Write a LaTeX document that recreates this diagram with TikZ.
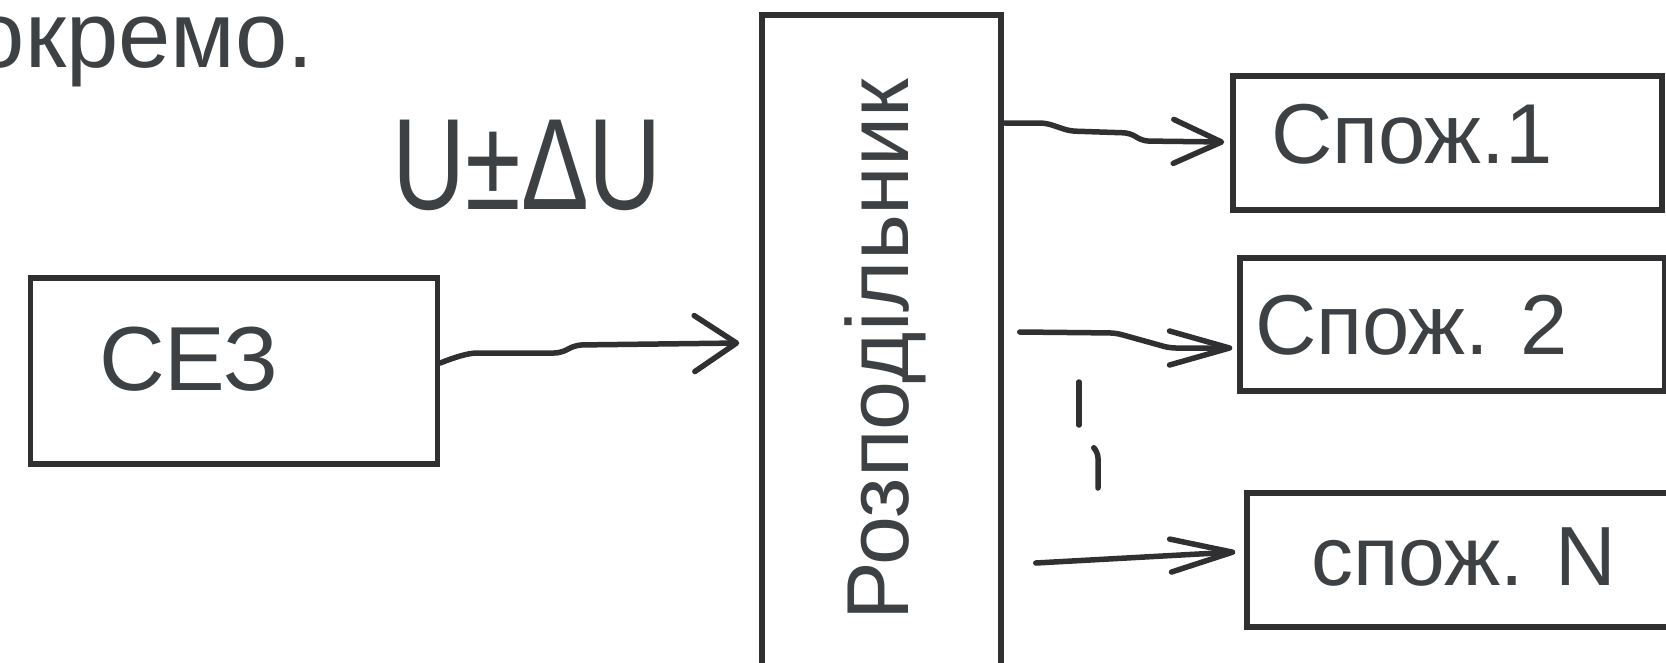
\documentclass[tikz,border=0pt]{standalone}
\usepackage{fontspec}
\setmainfont{Liberation Sans}
\usepackage{xcolor}
\usepackage{graphicx}
\usetikzlibrary{arrows.meta}
\usetikzlibrary{calc}
\definecolor{inkline}{RGB}{48,48,50}
\definecolor{inktext}{RGB}{62,65,68}
\newcommand{\fsz}[1]{\fontsize{#1pt}{#1pt}\selectfont}

\begin{document}
\begin{tikzpicture}[x=1pt,y=1pt,
        block/.style={draw=inkline,line width=5.5pt,inner sep=0pt},
        lbl/.style={inner sep=0pt,text=inktext,anchor=base west},
        wire/.style={draw=inkline,line width=5.5pt,line cap=round,line join=round,rounded corners=6pt}]
        \useasboundingbox (0,0) rectangle (1666,-662);
        \node[block,minimum width=407pt,minimum height=186pt] (sez) at (234,-371) {};
        \node[block,minimum width=239pt,minimum height=675pt] (rozp) at (881.5,-352.5) {};
        \node[block,minimum width=429pt,minimum height=134pt] (spozh1) at (1447.5,-143) {};
        \node[block,minimum width=425pt,minimum height=133pt] (spozh2) at (1452.5,-324.5) {};
        \node[block,minimum width=443pt,minimum height=134pt] (spozhN) at (1468.5,-560) {};
        \node[lbl,anchor=base east,font={\fsz{94}}] (okremo) at (314,-67) {окремо.};
        \node[lbl,font={\fsz{130}}] (delta) at (392,-209) {\scalebox{0.78}[1]{U±ΔU}};
        \node[lbl,font={\fsz{91}}] (sezlbl) at (99,-390) {СЕЗ};
        \node[lbl,rotate=90,font={\fsz{88}}] (rozplbl) at (908,-621) {Розподільник};
        \node[lbl,font={\fsz{85}}] (spozh1lbl) at (1271,-163) {Спож.1};
        \node[lbl,font={\fsz{85}}] (spozh2lbl) at (1255,-354) {Спож. 2};
        \node[lbl,font={\fsz{84}}] (spozhNlbl) at (1311,-585) {спож. N};
        \draw[wire,-{Straight Barb[round,length=42pt,width=56pt]}] ($(sez.east)+(0,8)$) .. controls +(15,6) and +(-15,0) .. ++(43,10) -- ++(77,0) -- ++(16,8) -- ($(rozp.west)+(-20,9.5)$);
        \draw[wire,-{Straight Barb[round,length=48pt,width=44pt]}] ($(rozp.east|-spozh1.west)+(1,20)$) -- ++(41,0) -- ++(24,-8) -- ++(60,-2) -- ++(13,-8) -- ($(spozh1.west)+(-6,1)$);
        \draw[wire,-{Straight Barb[round,length=60pt,width=34pt]}] ($(rozp.east|-spozh2.west)+(16,-7.5)$) -- ++(96,-1) -- ++(54,-15) -- ($(spozh2.west)+(-5,-23.5)$);
        \draw[wire,-{Straight Barb[round,length=62pt,width=33pt]}] ($(rozp.east|-spozhN.west)+(32,-3)$) -- ($(spozhN.west)+(-9,8)$);
        \draw[wire] (1079,-382) -- (1079,-425);
        \draw[wire] (1095,-449) -- (1098,-452) -- (1098,-488);
    \end{tikzpicture}
\end{document}
